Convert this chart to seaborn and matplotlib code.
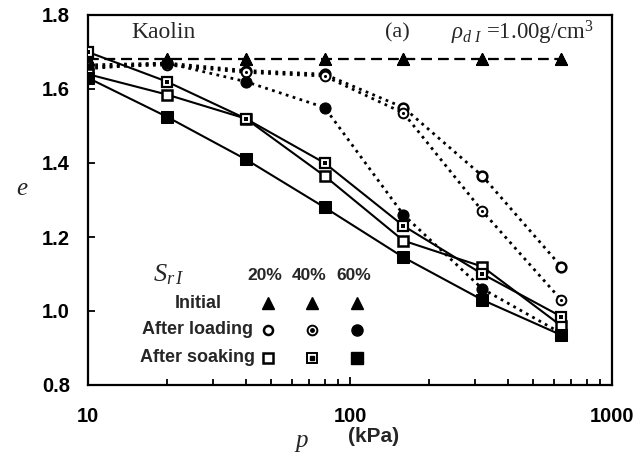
import matplotlib
matplotlib.use("Agg")
import matplotlib.pyplot as plt
import seaborn as sns
import numpy as np
from matplotlib.ticker import LogLocator, NullFormatter, FixedLocator

# ---------------- data ----------------
p_kpa = [10, 20, 40, 80, 160, 320, 640]
sr_labels = ["20%", "40%", "60%"]

e_initial = [1.68, 1.68, 1.68, 1.68, 1.68, 1.68, 1.68]

e_load_20 = [1.665, 1.670, 1.650, 1.640, 1.550, 1.365, 1.120]
e_load_40 = [1.660, 1.665, 1.645, 1.635, 1.535, 1.270, 1.030]
e_load_60 = [1.655, 1.670, 1.620, 1.550, 1.260, 1.060, 0.940]

e_soak_20 = [1.640, 1.585, 1.520, 1.365, 1.190, 1.120, 0.960]
e_soak_40 = [1.700, 1.620, 1.520, 1.400, 1.230, 1.100, 0.985]
e_soak_60 = [1.630, 1.525, 1.410, 1.280, 1.145, 1.030, 0.935]

x_ticks = [10, 100, 1000]
x_tick_labels = ["10", "100", "1000"]
y_ticks = [0.8, 1.0, 1.2, 1.4, 1.6, 1.8]
y_tick_labels = ["0.8", "1.0", "1.2", "1.4", "1.6", "1.8"]

# ---------------- style ----------------
sns.set_style("ticks")
plt.rcParams["font.family"] = ["Liberation Sans", "DejaVu Sans"]
plt.rcParams["font.weight"] = "normal"
plt.rcParams["mathtext.fontset"] = "custom"
plt.rcParams["mathtext.rm"] = "Liberation Serif"
plt.rcParams["mathtext.it"] = "Liberation Serif:italic"
plt.rcParams["mathtext.bf"] = "Liberation Serif:bold"

SERIF = ["Liberation Serif", "DejaVu Serif"]

fig = plt.figure(figsize=(6.44, 4.57), dpi=100)
ax = fig.add_axes([88 / 644, 1 - 385 / 457, 524 / 644, 370 / 457])

K = "black"
LW = 1.5
dotted = (0, (1, 1.6))
dashed = (0, (5, 3))

# Initial (dashed, triangles)
for _ in range(3):
    sns.lineplot(x=p_kpa, y=e_initial, ax=ax, color=K, lw=LW, linestyle=dashed,
                 marker="^", markersize=8, markerfacecolor=K, markeredgecolor=K,
                 estimator=None, sort=False, zorder=2)

# After loading (dotted, circles)
sns.lineplot(x=p_kpa, y=e_load_20, ax=ax, color=K, lw=2.0, linestyle=dotted,
             marker="o", markersize=7, markerfacecolor="white", markeredgecolor=K,
             markeredgewidth=1.8, estimator=None, sort=False, zorder=3)
sns.lineplot(x=p_kpa, y=e_load_40, ax=ax, color=K, lw=2.0, linestyle=dotted,
             marker="o", markersize=7, markerfacecolor="white", markeredgecolor=K,
             markeredgewidth=1.4, estimator=None, sort=False, zorder=3)
sns.scatterplot(x=p_kpa, y=e_load_40, ax=ax, color=K, s=5, marker="o",
                edgecolor=K, linewidth=0, zorder=4)
sns.lineplot(x=p_kpa, y=e_load_60, ax=ax, color=K, lw=2.0, linestyle=dotted,
             marker="o", markersize=8, markerfacecolor=K, markeredgecolor=K,
             estimator=None, sort=False, zorder=3)

# After soaking (solid, squares)
sns.lineplot(x=p_kpa, y=e_soak_20, ax=ax, color=K, lw=LW, linestyle="-",
             marker="s", markersize=7.5, markerfacecolor="white", markeredgecolor=K,
             markeredgewidth=1.8, estimator=None, sort=False, zorder=5)
sns.lineplot(x=p_kpa, y=e_soak_40, ax=ax, color=K, lw=LW, linestyle="-",
             marker="s", markersize=7.5, markerfacecolor="white", markeredgecolor=K,
             markeredgewidth=1.6, estimator=None, sort=False, zorder=5)
sns.scatterplot(x=p_kpa, y=e_soak_40, ax=ax, color=K, s=8, marker="s",
                edgecolor=K, linewidth=0, zorder=6)
sns.lineplot(x=p_kpa, y=e_soak_60, ax=ax, color=K, lw=LW, linestyle="-",
             marker="s", markersize=8, markerfacecolor=K, markeredgecolor=K,
             estimator=None, sort=False, zorder=5)

# ---------------- axes ----------------
ax.set_xscale("log")
ax.set_xlim(10, 1000)
ax.set_ylim(0.8, 1.8)
ax.xaxis.set_major_locator(FixedLocator(x_ticks))
ax.set_xticklabels(x_tick_labels, fontweight="bold", fontsize=14.5)
ax.xaxis.set_minor_locator(LogLocator(base=10, subs=np.arange(2, 10)))
ax.xaxis.set_minor_formatter(NullFormatter())
ax.set_yticks(y_ticks)
ax.set_yticklabels(y_tick_labels, fontweight="bold", fontsize=14.5)
ax.tick_params(axis="both", which="both", direction="in", width=1.3, colors=K)
ax.tick_params(axis="x", which="major", length=6, pad=16)
ax.tick_params(axis="x", which="minor", length=4)
ax.tick_params(axis="y", which="major", length=5, pad=13)
for s in ax.spines.values():
    s.set_visible(True)
    s.set_linewidth(1.6)
    s.set_color(K)

ax.set_xlabel("")
ax.set_ylabel("e", fontsize=18, fontstyle="italic", fontweight="normal",
              family=SERIF, rotation=0)
ax.yaxis.set_label_coords(-0.126, 0.5)

def fx(px):
    return (px - 88) / 524

def fy(py):
    return 1 - (py - 15) / 370

ax.text(fx(302), fy(441), "p", transform=ax.transAxes, ha="center", va="center",
        fontsize=18, fontstyle="italic", fontweight="normal", family=SERIF)
ax.text(fx(374), fy(437), "(kPa)", transform=ax.transAxes, ha="center", va="center",
        fontsize=15, fontweight="bold")

ax.text(fx(131), fy(33), "Kaolin", transform=ax.transAxes, ha="left", va="center",
        fontsize=17, fontweight="normal", family=SERIF)
ax.text(fx(385), fy(33), "(a)", transform=ax.transAxes, ha="left", va="center",
        fontsize=16, fontweight="normal", family=SERIF)
ax.text(fx(594), fy(33), r"$\rho_{d\ I}$ =1.00g/cm$^{3}$", transform=ax.transAxes,
        ha="right", va="center", fontsize=16.5, fontweight="normal", family=SERIF)

# ---------------- in-plot legend ----------------
col_x = [268, 312, 357]
head_y = 275
rows = [("Initial", 303), ("After loading", 330), ("After soaking", 358)]

ax.text(fx(169), fy(head_y), r"$S_{r\,I}$", transform=ax.transAxes, ha="center",
        va="center", fontsize=19, family=SERIF, fontweight="normal")
for lab, cx in zip(sr_labels, col_x):
    ax.text(fx(cx - 3), fy(head_y), lab, transform=ax.transAxes, ha="center",
            va="center", fontsize=12.5, fontweight="bold")
for lab, ry in rows:
    ax.text(fx(198), fy(ry), lab, transform=ax.transAxes, ha="center",
            va="center", fontsize=13, fontweight="bold")

leg_kw = dict(transform=ax.transAxes, clip_on=False, color=K, linestyle="none")
for cx in col_x:
    ax.plot([fx(cx)], [fy(303)], marker="^", markersize=8, markerfacecolor=K,
            markeredgecolor=K, **leg_kw)
ax.plot([fx(col_x[0])], [fy(330)], marker="o", markersize=6.5, markerfacecolor="white",
        markeredgecolor=K, markeredgewidth=1.8, **leg_kw)
ax.plot([fx(col_x[1])], [fy(330)], marker="o", markersize=7, markerfacecolor="white",
        markeredgecolor=K, markeredgewidth=1.4, **leg_kw)
ax.plot([fx(col_x[1])], [fy(330)], marker="o", markersize=2.5, markerfacecolor=K,
        markeredgecolor=K, **leg_kw)
ax.plot([fx(col_x[2])], [fy(330)], marker="o", markersize=8, markerfacecolor=K,
        markeredgecolor=K, **leg_kw)
ax.plot([fx(col_x[0])], [fy(358)], marker="s", markersize=7, markerfacecolor="white",
        markeredgecolor=K, markeredgewidth=1.8, **leg_kw)
ax.plot([fx(col_x[1])], [fy(358)], marker="s", markersize=7, markerfacecolor="white",
        markeredgecolor=K, markeredgewidth=1.4, **leg_kw)
ax.plot([fx(col_x[1])], [fy(358)], marker="s", markersize=2.8, markerfacecolor=K,
        markeredgecolor=K, **leg_kw)
ax.plot([fx(col_x[2])], [fy(358)], marker="s", markersize=8, markerfacecolor=K,
        markeredgecolor=K, **leg_kw)

fig.savefig("out.png", dpi=100)
